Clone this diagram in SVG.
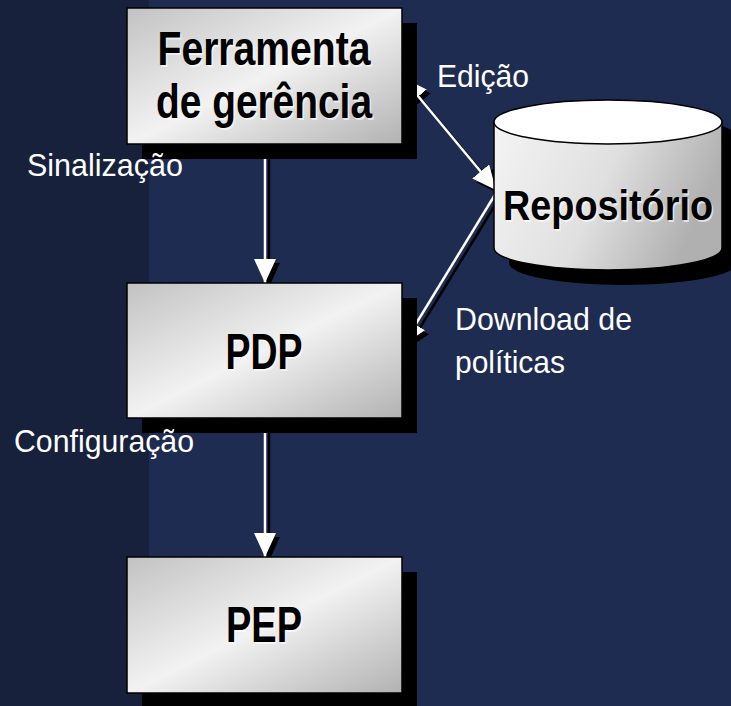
<svg xmlns="http://www.w3.org/2000/svg" width="731" height="706" viewBox="0 0 731 706">
<defs>
<linearGradient id="boxg" x1="0" y1="0" x2="1" y2="1">
<stop offset="0" stop-color="#c2c2c2"/>
<stop offset="0.5" stop-color="#f2f2f2"/>
<stop offset="1" stop-color="#b2b2b2"/>
</linearGradient>
<linearGradient id="cylg" x1="0" y1="0" x2="1" y2="0.3">
<stop offset="0" stop-color="#f4f4f4"/>
<stop offset="0.55" stop-color="#e0e0e0"/>
<stop offset="1" stop-color="#b0b0b0"/>
</linearGradient>
<marker id="ah" viewBox="0 0 24 22" refX="24" refY="11" markerWidth="24" markerHeight="22" markerUnits="userSpaceOnUse" orient="auto-start-reverse">
<path d="M0,0 L24,11 L0,22 Z" fill="#ffffff"/>
</marker>
<marker id="ahs" viewBox="0 0 24 22" refX="24" refY="11" markerWidth="24" markerHeight="22" markerUnits="userSpaceOnUse" orient="auto-start-reverse">
<path d="M0,0 L24,11 L0,22 Z" fill="#000000"/>
</marker>
</defs>
<style>
.box{fill:url(#boxg);stroke:#000;stroke-width:1.5}
.shd{fill:#000}
.bt{font-family:"Liberation Sans",Arial,sans-serif;font-weight:bold;fill:#000;text-anchor:middle}
.bts{font-family:"Liberation Sans",Arial,sans-serif;font-weight:bold;fill:#ffffff;fill-opacity:0.6;text-anchor:middle}
.lbl{font-family:"Liberation Sans",Arial,sans-serif;font-size:32px;fill:#ffffff}
.ln{stroke:#ffffff;stroke-width:2.5;fill:none}
.lns{stroke:#000000;stroke-width:2.5;fill:none}
</style>
<rect x="0" y="0" width="731" height="706" fill="#1f2c51"/>
<rect x="0" y="0" width="149" height="706" fill="#17213c"/>

<g id="connectors">
<line class="lns" x1="269" y1="148" x2="269" y2="287" marker-end="url(#ahs)"/>
<line class="ln" x1="265" y1="144" x2="265" y2="283" marker-end="url(#ah)"/>
<line class="lns" x1="269" y1="422" x2="269" y2="561" marker-end="url(#ahs)"/>
<line class="ln" x1="265" y1="418" x2="265" y2="557" marker-end="url(#ah)"/>
<line class="lns" x1="407" y1="82" x2="500" y2="194" marker-start="url(#ahs)" marker-end="url(#ahs)"/>
<line class="ln" x1="403" y1="78" x2="496" y2="190" marker-start="url(#ah)" marker-end="url(#ah)"/>
<line class="lns" x1="500" y1="197" x2="407" y2="349" marker-end="url(#ahs)"/>
<line class="ln" x1="496" y1="193" x2="403" y2="345" marker-end="url(#ah)"/>
</g>

<g id="ferramenta">
<rect class="shd" x="142" y="23" width="275" height="136"/>
<rect class="box" x="127" y="8" width="275" height="136"/>
<text class="bts" x="265.5" y="66.5" font-size="48" textLength="213" lengthAdjust="spacingAndGlyphs">Ferramenta</text>
<text class="bt" x="264" y="65" font-size="48" textLength="213" lengthAdjust="spacingAndGlyphs">Ferramenta</text>
<text class="bts" x="265.5" y="119.5" font-size="48" textLength="216" lengthAdjust="spacingAndGlyphs">de gerência</text>
<text class="bt" x="264" y="118" font-size="48" textLength="216" lengthAdjust="spacingAndGlyphs">de gerência</text>
</g>

<g id="pdp">
<rect class="shd" x="142" y="298" width="275" height="135"/>
<rect class="box" x="127" y="283" width="275" height="135"/>
<text class="bts" x="265.5" y="370.5" font-size="50" textLength="77" lengthAdjust="spacingAndGlyphs">PDP</text>
<text class="bt" x="264" y="369" font-size="50" textLength="77" lengthAdjust="spacingAndGlyphs">PDP</text>
</g>

<g id="pep">
<rect class="shd" x="142" y="572" width="275" height="136"/>
<rect class="box" x="127" y="557" width="275" height="136"/>
<text class="bts" x="265.5" y="643.5" font-size="50" textLength="76" lengthAdjust="spacingAndGlyphs">PEP</text>
<text class="bt" x="264" y="642" font-size="50" textLength="76" lengthAdjust="spacingAndGlyphs">PEP</text>
</g>

<g id="repositorio">
<path class="shd" d="M509,137 A114,22 0 0 1 737,137 L737,263 A114,22 0 0 1 509,263 Z"/>
<path d="M494,122 L494,248 A114,22 0 0 0 722,248 L722,122 Z" fill="url(#cylg)" stroke="#000" stroke-width="1.5"/>
<ellipse cx="608" cy="122" rx="114" ry="22" fill="#ffffff" stroke="#000" stroke-width="1.5"/>
<text class="bts" x="609.5" y="221.5" font-size="42" textLength="210" lengthAdjust="spacingAndGlyphs">Repositório</text>
<text class="bt" x="608" y="220" font-size="42" textLength="210" lengthAdjust="spacingAndGlyphs">Repositório</text>
</g>

<g id="labels">
<text class="lbl" x="27" y="176" textLength="156" lengthAdjust="spacingAndGlyphs">Sinalização</text>
<text class="lbl" x="14" y="452" textLength="180" lengthAdjust="spacingAndGlyphs">Configuração</text>
<text class="lbl" x="437" y="87" textLength="92" lengthAdjust="spacingAndGlyphs">Edição</text>
<text class="lbl" x="455" y="330" textLength="177" lengthAdjust="spacingAndGlyphs">Download de</text>
<text class="lbl" x="455" y="373" textLength="110" lengthAdjust="spacingAndGlyphs">políticas</text>
</g>
</svg>
